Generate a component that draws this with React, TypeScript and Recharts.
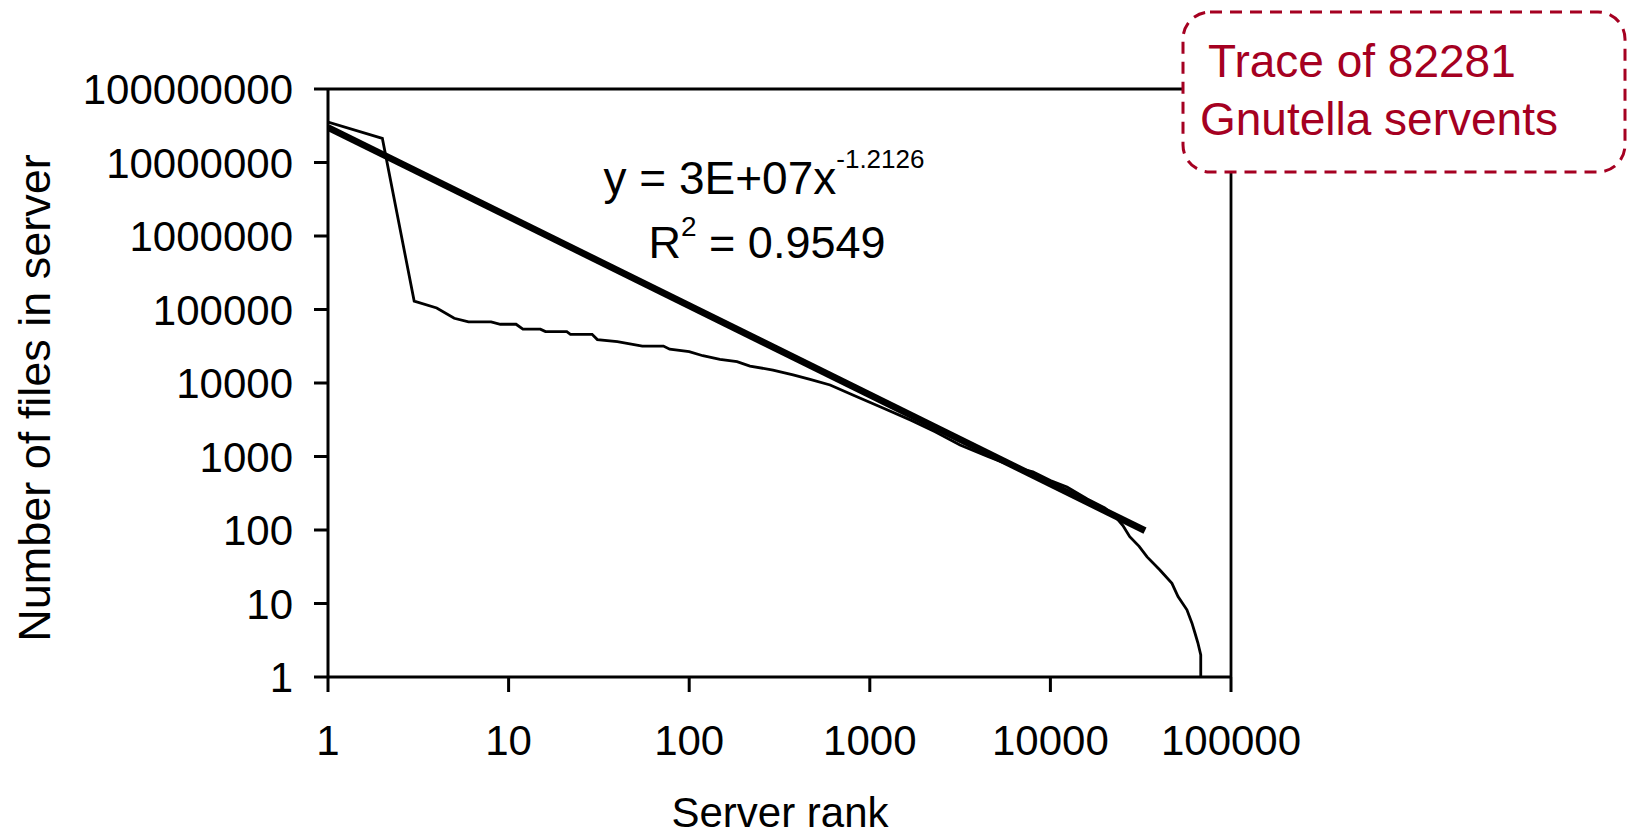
import { LineChart, Line, XAxis, YAxis, ReferenceLine } from 'recharts';

// Gnutella trace: files held per server, by server rank
const serverRank = [
  1, 2, 3, 4, 5, 6, 8, 9, 11, 12, 15, 16, 21, 22, 29, 31, 40, 55, 72, 78,
  100, 119, 148, 184, 217, 291, 376, 467, 603, 800, 1183, 1700, 2300, 3160,
  4500, 6530, 8000, 10000, 12360, 16000, 20000, 23000, 25200, 27500, 31000,
  34300, 40400, 47100, 50900, 57000, 60800, 63100, 65600, 68000, 68000,
];
const filesInServer = [
  35500000, 21300000, 130000, 105000, 76000, 68000, 68000, 63000, 63000, 54000,
  54000, 50000, 50000, 46000, 46000, 39000, 36500, 31800, 31800, 28800,
  26700, 23500, 21000, 19500, 17000, 15000, 12900, 11200, 9400, 6900,
  4570, 3100, 2170, 1430, 1000, 700, 620, 470, 385, 265,
  200, 150, 115, 81, 60, 43, 28.6, 18.8, 12.4, 8.2,
  5.4, 4, 2.9, 2, 1,
];

// power-law trendline endpoints, y = 3E+07 x^-1.2126
const fitRank = [1, 33400];
const fitFiles = [30000000, 98];

const xTicks = [1, 10, 100, 1000, 10000, 100000];
const yTicks = [1, 10, 100, 1000, 10000, 100000, 1000000, 10000000, 100000000];

const traceData = serverRank.map((x, i) => ({ x, y: filesInServer[i] }));
const fitData = fitRank.map((x, i) => ({ x, y: fitFiles[i] }));

const FONT = '"Liberation Sans", Arial, sans-serif';
const RED = '#A50021';

function XTick({ x, y, payload }: any) {
  return (
    <text x={x} y={y + 61} textAnchor="middle" fontFamily={FONT} fontSize={42} fill="#000">
      {payload.value}
    </text>
  );
}

function YTick({ x, y, payload }: any) {
  return (
    <text x={x - 19} y={y} dy="0.36em" textAnchor="end" fontFamily={FONT} fontSize={42} fill="#000">
      {payload.value}
    </text>
  );
}

export default function App() {
  return (
    <div style={{ position: 'absolute', left: 0, top: 0, width: 1627, height: 835, background: '#fff' }}>
      <LineChart width={1627} height={835} margin={{ top: 89, right: 396, left: 0, bottom: 0 }}>
        <XAxis
          dataKey="x"
          type="number"
          scale="log"
          domain={[1, 100000]}
          ticks={xTicks}
          allowDataOverflow
          height={158}
          tickSize={15}
          tick={<XTick />}
          axisLine={{ stroke: '#000', strokeWidth: 3 }}
          tickLine={{ stroke: '#000', strokeWidth: 3 }}
        />
        <YAxis
          dataKey="y"
          type="number"
          scale="log"
          domain={[1, 100000000]}
          ticks={yTicks}
          allowDataOverflow
          width={328}
          tickSize={14}
          tick={<YTick />}
          axisLine={{ stroke: '#000', strokeWidth: 3 }}
          tickLine={{ stroke: '#000', strokeWidth: 3 }}
        />
        <ReferenceLine y={100000000} stroke="#000" strokeWidth={2.8} />
        <ReferenceLine x={100000} stroke="#000" strokeWidth={2.8} />
        <Line
          data={fitData}
          dataKey="y"
          type="linear"
          stroke="#000"
          strokeWidth={6.8}
          dot={false}
          isAnimationActive={false}
        />
        <Line
          data={traceData}
          dataKey="y"
          type="linear"
          stroke="#000"
          strokeWidth={2.8}
          dot={false}
          isAnimationActive={false}
        />
      </LineChart>
      <svg
        width={1627}
        height={835}
        style={{ position: 'absolute', left: 0, top: 0, pointerEvents: 'none' }}
      >
        <text
          x={50}
          y={398}
          transform="rotate(-90 50 398)"
          textAnchor="middle"
          fontFamily={FONT}
          fontSize={45}
          fill="#000"
        >
          Number of files in server
        </text>
        <text x={780} y={827} textAnchor="middle" fontFamily={FONT} fontSize={42} fill="#000">
          Server rank
        </text>
        <text x={764} y={194} textAnchor="middle" fontFamily={FONT} fontSize={46} fill="#000">
          <tspan>y = 3E+07x</tspan>
          <tspan dy={-26} fontSize={26}>-1.2126</tspan>
        </text>
        <text x={767} y={258} textAnchor="middle" fontFamily={FONT} fontSize={45} fill="#000">
          <tspan>R</tspan>
          <tspan dy={-22} fontSize={28}>2</tspan>
          <tspan dy={22}> = 0.9549</tspan>
        </text>
        <rect
          x={1183}
          y={12}
          width={442}
          height={160}
          rx={27}
          ry={27}
          fill="#fff"
          stroke={RED}
          strokeWidth={3}
          strokeDasharray="12 8"
        />
        <text x={1208} y={77} fontFamily={FONT} fontSize={46} fill={RED}>
          Trace of 82281
        </text>
        <text x={1200} y={135} fontFamily={FONT} fontSize={46} fill={RED}>
          Gnutella servents
        </text>
      </svg>
    </div>
  );
}
